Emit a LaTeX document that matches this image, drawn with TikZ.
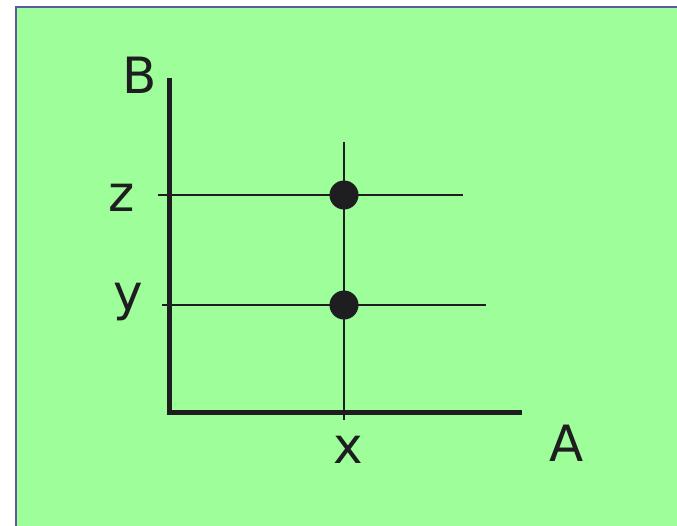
\documentclass[tikz,border=0pt]{standalone}
\usepackage{fontspec}
\setmainfont{DejaVu Sans}
\definecolor{bg}{RGB}{158,255,154}
\definecolor{frame}{RGB}{90,90,160}
\definecolor{ink}{RGB}{30,30,32}
\begin{document}
\begin{tikzpicture}[x=1pt,y=-1pt,
  lbl/.style={font=\fontsize{50}{60}\selectfont, text=ink, inner sep=0pt},
  dot/.style={circle, fill=ink, minimum size=29pt, inner sep=0pt},
  axis/.style={draw=ink, line width=5pt},
  thin/.style={draw=ink, line width=2.8pt}]
\useasboundingbox (0,0) rectangle (677,525);
\fill[bg] (16,7) rectangle (680,528);
\draw[frame, line width=2pt] (16,528) -- (16,7) -- (680,7);
% axes
\coordinate (o) at (169,412);
\coordinate (btop) at (169,78);
\coordinate (aend) at (522,412);
\draw[axis] (btop) -- (o) -- (aend);
% dots
\node[dot] (dz) at (344,195) {};
\node[dot] (dy) at (344,305) {};
\coordinate (vtop) at (344,142);
\coordinate (vbot) at (344,420);
\coordinate (zl) at (158,195);
\coordinate (zr) at (463,195);
\coordinate (yl) at (162,305);
\coordinate (yr) at (486,305);
\draw[thin] (vtop) -- (vbot);
\draw[thin] (zl) -- (zr);
\draw[thin] (yl) -- (yr);
% labels
\node[lbl] (B) at (140,75) {B};
\node[lbl] (z) at (122,198) {z};
\node[lbl] (y) at (128,302) {y};
\node[lbl] (x) at (348,450) {x};
\node[lbl] (A) at (567,443) {A};
\end{tikzpicture}
\end{document}
